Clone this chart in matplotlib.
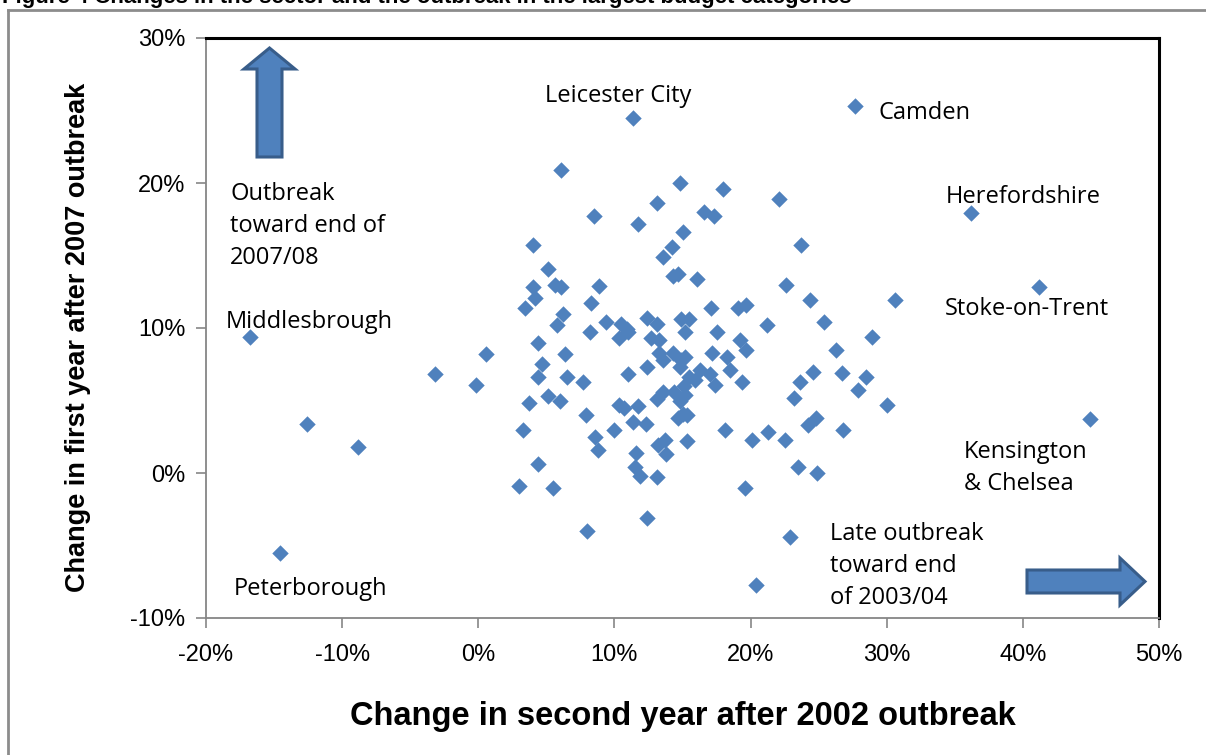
import matplotlib
matplotlib.use("Agg")
import matplotlib.pyplot as plt
import matplotlib.patches as mpatches
from matplotlib.lines import Line2D
from matplotlib.ticker import FuncFormatter

W, H = 1206, 755

# change in second year after 2002 outbreak (%), change in first year after 2007 outbreak (%)
x_vals = [11.4, 27.7, 36.2, 41.2, 44.9, -16.8, -14.6, -12.6, -8.8, -3.2,
          -0.2, 0.6, 3.0, 3.3, 3.7, 6.1, 14.8, 18.0, 22.1, 13.1,
          8.5, 11.7, 16.6, 17.3, 15.0, 23.7, 4.0, 14.2, 13.6, 5.1,
          5.6, 6.1, 14.3, 14.7, 16.1, 8.9, 22.6, 4.0, 4.2, 3.4,
          8.3, 6.2, 5.8, 17.1, 19.1, 24.4, 30.6, 9.4, 10.5, 12.4,
          13.1, 14.9, 15.5, 21.2, 25.4, 28.9, 26.3, 24.6, 26.7, 28.5,
          27.9, 30.0, 24.2, 24.8, 26.8, 24.9, 23.5, 23.2, 23.6, 22.5,
          21.3, 20.1, 19.6, 18.1, 22.9, 20.4, 12.4, 8.0, 8.2, 4.4,
          6.4, 4.7, 4.4, 6.5, 7.7, 5.1, 6.0, 7.9, 4.4, 5.5,
          8.6, 8.8, 10.0, 10.3, 10.7, 11.4, 12.3, 11.7, 11.0, 12.4,
          11.6, 11.5, 11.9, 13.1, 13.7, 13.8, 13.2, 15.3, 13.1, 13.6,
          14.8, 15.3, 14.7, 14.3, 14.8, 15.5, 16.3, 17.0, 17.4, 18.5,
          17.2, 18.3, 19.2, 19.7, 19.4, 17.5, 13.3, 13.6, 12.7, 13.3,
          15.2, 10.3, 11.0, 10.9, 14.4, 15.2, 15.0, 15.2, 15.1, 14.9,
          15.9, 19.7]
y_vals = [24.5, 25.3, 17.9, 12.8, 3.7, 9.4, -5.5, 3.4, 1.8, 6.8,
          6.1, 8.2, -0.9, 3.0, 4.8, 20.9, 20.0, 19.6, 18.9, 18.6,
          17.7, 17.2, 18.0, 17.7, 16.6, 15.7, 15.7, 15.6, 14.9, 14.1,
          13.0, 12.8, 13.6, 13.7, 13.4, 12.9, 13.0, 12.8, 12.1, 11.4,
          11.7, 11.0, 10.2, 11.4, 11.4, 11.9, 11.9, 10.4, 10.3, 10.7,
          10.3, 10.6, 10.6, 10.2, 10.4, 9.4, 8.5, 7.0, 6.9, 6.6,
          5.7, 4.7, 3.3, 3.8, 3.0, 0.0, 0.4, 5.2, 6.3, 2.3,
          2.8, 2.3, -1.0, 3.0, -4.4, -7.7, -3.1, -4.0, 9.7, 9.0,
          8.2, 7.5, 6.6, 6.6, 6.3, 5.3, 5.0, 4.0, 0.6, -1.0,
          2.5, 1.6, 3.0, 4.7, 4.5, 3.5, 3.4, 4.6, 6.8, 7.3,
          1.4, 0.4, -0.2, -0.3, 2.3, 1.3, 1.9, 2.2, 5.1, 5.6,
          5.0, 4.0, 3.8, 8.3, 7.3, 6.6, 7.1, 6.8, 6.1, 7.1,
          8.3, 8.0, 9.2, 8.5, 6.3, 9.7, 8.3, 7.8, 9.3, 9.2,
          9.7, 9.3, 9.7, 9.9, 5.6, 5.4, 4.1, 8.0, 6.0, 7.8,
          6.4, 11.6]

x_ticks = [-20, -10, 0, 10, 20, 30, 40, 50]
y_ticks = [-10, 0, 10, 20, 30]

MARKER = '#4F81BD'
ARROW_EDGE = '#385D8A'
GRID_GRAY = '#868686'

sans = ['Liberation Sans', 'DejaVu Sans']
body = ['Open Sans', 'DejaVu Sans']


def px(x, y):
    # image pixel -> figure fraction
    return (x / W, 1 - y / H)


fig = plt.figure(figsize=(W / 100, H / 100), dpi=100)
ax = fig.add_axes([206 / W, 1 - 618 / H, (1159 - 206) / W, (618 - 38) / H])

ax.scatter(x_vals, y_vals, marker='D', s=70, color=MARKER, linewidths=0, zorder=3)

ax.set_xlim(-20, 50)
ax.set_ylim(-10, 30)
ax.set_xticks(x_ticks)
ax.set_yticks(y_ticks)
pct = FuncFormatter(lambda v, p: f"{v:.0f}%")
ax.xaxis.set_major_formatter(pct)
ax.yaxis.set_major_formatter(pct)
ax.tick_params(direction='out', length=7, width=1.2, color=GRID_GRAY,
               labelsize=17, pad=8)
for lab in ax.get_xticklabels() + ax.get_yticklabels():
    lab.set_family(sans)
ax.tick_params(axis='x', pad=12)

for side in ('top', 'right'):
    ax.spines[side].set_color('black')
    ax.spines[side].set_linewidth(2.2)
for side in ('left', 'bottom'):
    ax.spines[side].set_color(GRID_GRAY)
    ax.spines[side].set_linewidth(1.3)

ax.set_xlabel("Change in second year after 2002 outbreak", family=sans,
              fontsize=23.5, fontweight='bold')
ax.set_ylabel("Change in first year after 2007 outbreak", family=sans,
              fontsize=19.5, fontweight='bold')
ax.xaxis.set_label_coords(0.5, -(717 - 618) / 580, transform=ax.transAxes)
ax.xaxis.label.set_va('center')
ax.yaxis.set_label_coords(-(206 - 78) / 953, (618 - 337) / 580, transform=ax.transAxes)
ax.yaxis.label.set_va('center')

# labels for named authorities and the notes
tkw = dict(family=body, fontsize=17, color='black', va='center', ha='left')
fig.text(*px(545, 96), "Leicester City", **tkw)
fig.text(*px(878, 113), "Camden", **tkw)
fig.text(*px(946, 197), "Herefordshire", **tkw)
fig.text(*px(945, 309), "Stoke-on-Trent", **tkw)
fig.text(*px(964, 468), "Kensington\n& Chelsea", linespacing=1.44, **tkw)
fig.text(*px(226, 322), "Middlesbrough", **tkw)
fig.text(*px(234, 589), "Peterborough", **tkw)
fig.text(*px(230, 226), "Outbreak\ntoward end of\n2007/08", linespacing=1.44, **tkw)
fig.text(*px(830, 566), "Late outbreak\ntoward end\nof 2003/04", linespacing=1.44, **tkw)

# block arrows
up = [(257, 157), (282, 157), (282, 69), (295, 69), (269.5, 48), (244, 69), (257, 69)]
right = [(1027, 570), (1120, 570), (1120, 558), (1145, 581.5), (1120, 605), (1120, 593), (1027, 593)]
for pts in (up, right):
    fig.patches.append(mpatches.Polygon([px(a, b) for a, b in pts], closed=True,
                                        transform=fig.transFigure, facecolor=MARKER,
                                        edgecolor=ARROW_EDGE, linewidth=2.2, zorder=5))

# outer frame and caption that runs off the top of the picture
fig.lines.append(Line2D([8 / W, 1], [1 - 10 / H, 1 - 10 / H], transform=fig.transFigure,
                        color='#8C8C8C', linewidth=2))
fig.lines.append(Line2D([8 / W, 8 / W], [0, 1 - 10 / H], transform=fig.transFigure,
                        color='#8C8C8C', linewidth=2))
fig.text(*px(2, 3), "Figure 4 Changes in the sector and the outbreak in the largest budget categories",
         family=sans, fontsize=16, fontweight='bold', va='baseline', ha='left')

fig.savefig("out.png", dpi=100)
